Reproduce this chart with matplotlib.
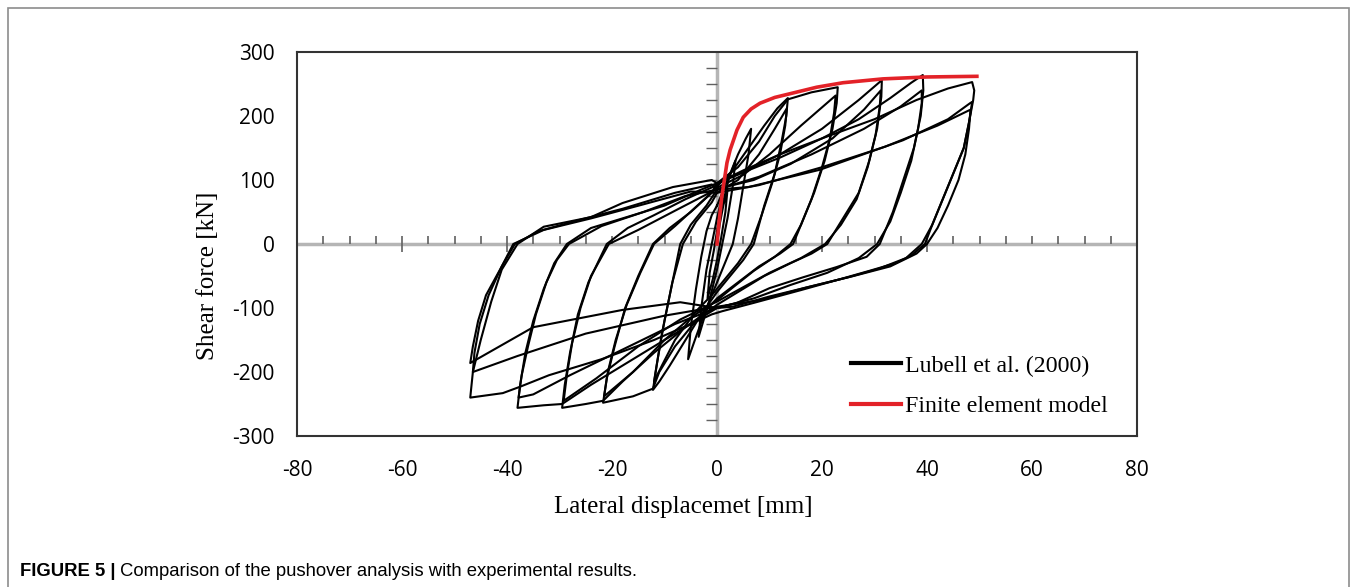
import matplotlib
matplotlib.use("Agg")
import matplotlib.pyplot as plt
from matplotlib.lines import Line2D
from matplotlib.patches import Rectangle
import numpy as np

plt.rcParams["axes.unicode_minus"] = False

# finite element pushover curve
fe_x = [0, 0.4, 0.9, 1.9, 2.5, 3.8, 5, 6.5, 8.2, 11, 14.5, 19, 24, 31.6, 40, 49.5]
fe_y = [0, 35, 73, 127, 147, 178, 198, 211, 220, 229, 236, 245, 252, 258, 261, 262]

# Lubell et al. (2000) cyclic test, traced cycle by cycle
loop1_x = [0, 0.5, 1.2, 2.0, 1.6, 0.8, 0, -0.8, -1.8, -1.4, -0.6, 0]
loop1_y = [0, 30, 60, 85, 50, 10, -25, -55, -85, -45, -10, 20]

loop2_x = [0, 1.0, 2.2, 3.5, 3.0, 2.0, 1.0, 0, -1.5, -3.5, -3.0, -2.0, -1.0, 0, 1.0]
loop2_y = [20, 60, 100, 130, 90, 40, 0, -40, -90, -145, -100, -40, 0, 40, 75]

loop3_x = [0, 2, 4, 5.5, 6.5, 6.0, 5.0, 4.0, 3.0, 1.5, 0, -2, -4, -5.5, -5.0, -4.0, -3.0, -2.0, -1.0, 0]
loop3_y = [60, 100, 140, 165, 180, 140, 90, 40, 0, -30, -60, -100, -145, -180, -130, -70, -20, 20, 45, 60]

loop4_x = [0, 3, 6, 9, 11.5, 13.5, 13.2, 12.3, 11, 9, 7, 5, 2, 0, -3, -6, -9, -11, -12.2,
           -11.5, -10.5, -9, -7, -5, -2, 0]
loop4_y = [90, 115, 150, 185, 212, 228, 200, 160, 110, 60, 0, -25, -55, -75, -110, -150, -190, -215, -228,
           -190, -140, -80, 0, 30, 60, 85]

loop4b_x = [0, 4, 8, 11, 13.3, 13.0, 12.0, 10.5, 8.5, 6.5, 4, 1, -1, -4, -8, -10.5, -12.0,
            -11.2, -10.0, -8.5, -6.5, -4, -1, 0]
loop4b_y = [80, 100, 140, 180, 212, 185, 140, 95, 45, 0, -30, -60, -80, -105, -150, -190, -215,
            -175, -120, -60, 0, 35, 65, 80]

loop5_x = [0, 4, 8, 11, 13.5, 18, 23, 22.8, 22, 20.5, 18.5, 16.5, 14.5, 12, 8, 4, 0, -4, -8, -11,
           -12.2, -16, -21.7, -21, -19.5, -17.5, -15, -12.2, -9, -5, -1, 0]
loop5_y = [95, 120, 160, 200, 226, 237, 245, 220, 180, 130, 80, 40, 0, -15, -35, -60, -85, -120, -160, -200,
           -226, -238, -248, -210, -160, -100, -50, 0, 25, 50, 80, 95]

loop5b_x = [0, 5, 10, 16, 22.6, 22.3, 21.5, 20, 18, 16, 14, 11, 7, 3, 0, -5, -10, -16, -21.5,
            -20.8, -19.3, -17.2, -14.6, -12, -8, -4, 0]
loop5b_y = [88, 108, 140, 185, 232, 205, 165, 120, 70, 30, 0, -20, -42, -68, -88, -115, -150, -200, -238,
            -200, -150, -95, -45, 0, 28, 58, 88]

loop6_x = [0, 5, 12, 20, 27, 31.4, 31.3, 30.5, 29, 27, 24, 21, 18, 14, 9, 4, 0, -6, -12, -18,
           -21.7, -25, -29.5, -29, -28, -26.5, -24.5, -21, -17, -12, -6, 0]
loop6_y = [95, 112, 140, 180, 225, 256, 230, 180, 130, 80, 40, 0, -15, -30, -50, -75, -95, -130, -170, -215,
           -245, -250, -256, -220, -170, -110, -60, 0, 25, 45, 70, 92]

loop6b_x = [0, 7, 14, 22, 28, 31.2, 31.0, 30.2, 28.7, 26.6, 23.6, 20.6, 16, 10, 4, 0, -7, -15, -23,
            -29.2, -28.6, -27.6, -26, -24, -20.6, -15, -8, 0]
loop6b_y = [86, 100, 125, 165, 210, 240, 215, 170, 120, 70, 30, 0, -22, -45, -72, -90, -118, -160, -210,
            -245, -205, -155, -100, -50, 0, 22, 52, 86]

loop7_x = [0, 5, 12, 20, 27, 33, 37, 39.2, 39.3, 38.8, 37.5, 35.5, 33.5, 31, 28.5, 22.8, 16.4, 10, 3.8,
           0, -8, -16, -24, -29.5, -33, -38, -37.5, -36.5, -35, -33, -31, -28.6, -24, -18, -10, -3, 0]
loop7_y = [95, 112, 135, 165, 195, 228, 252, 264, 240, 200, 150, 100, 50, 0, -20, -36, -52, -69, -92,
           -100, -140, -180, -220, -250, -252, -256, -220, -170, -120, -70, -30, 0, 25, 40, 60, 85, 95]

loop7b_x = [0, 8, 18, 28, 35, 39.0, 39.0, 38.3, 37, 35, 33, 30.5, 27, 21, 14, 7, 0, -8, -18, -28,
            -35, -37.8, -37.2, -36, -34.5, -32.5, -30.5, -28.2, -22, -14, -6, 0]
loop7b_y = [85, 105, 140, 180, 215, 240, 220, 180, 130, 80, 35, 0, -22, -45, -64, -85, -100, -125, -165, -205,
            -235, -240, -205, -160, -110, -60, -25, 0, 28, 50, 75, 85]

loop8a_x = [0, 5, 12, 20, 30, 38, 44, 48.6, 49, 48.8, 48, 47, 45, 43, 41, 39.6, 37, 34, 29, 23, 16, 7,
            1, -1, -5, -12, -22, -32, -37.5, -40.8, -47, -46.5, -45, -43, -41, -38, -33, -24, -18, -8.4,
            -1, 0]
loop8a_y = [95, 115, 140, 165, 195, 225, 243, 253, 240, 225, 190, 150, 110, 70, 30, 0, -18, -30, -42, -56,
            -72, -92, -105, -110, -125, -150, -180, -205, -223, -233, -240, -200, -150, -90, -40, 0, 27, 42,
            64, 89, 100, 95]

loop8b_x = [0, 6, 19.6, 35.4, 44, 48.2, 48.6, 48, 47, 45, 43, 41, 39, 36, 31, 25, 18, 10, 3, 0, -7,
            -18, -35, -47, -46.5, -45.5, -44, -41, -38.5, -34, -26, -18, -8, -1, 0]
loop8b_y = [85, 89, 116, 162, 195, 220, 222, 190, 150, 110, 70, 30, 0, -22, -38, -52, -66, -82, -98, -100,
            -91, -103, -130, -186, -160, -120, -80, -35, 0, 20, 38, 55, 80, 93, 85]

loop8c_x = [0, 8, 20, 32, 42, 48.3, 48.0, 47.3, 46, 44, 42, 40, 38, 33, 26, 17, 8, 0, -10, -25,
            -38, -46.5, -46.2, -45.2, -43.5, -41, -38.8, -33, -24, -14, -5, 0]
loop8c_y = [80, 92, 120, 152, 185, 210, 180, 140, 100, 60, 25, 0, -15, -35, -50, -68, -88, -98, -112, -140,
            -175, -200, -170, -125, -80, -35, 0, 22, 40, 62, 82, 80]

loops = [
    (loop1_x, loop1_y), (loop2_x, loop2_y), (loop3_x, loop3_y),
    (loop4_x, loop4_y), (loop4b_x, loop4b_y),
    (loop5_x, loop5_y), (loop5b_x, loop5b_y),
    (loop6_x, loop6_y), (loop6b_x, loop6b_y),
    (loop7_x, loop7_y), (loop7b_x, loop7b_y),
    (loop8a_x, loop8a_y), (loop8b_x, loop8b_y), (loop8c_x, loop8c_y),
]

x_ticks = [-80, -60, -40, -20, 0, 20, 40, 60, 80]
y_ticks = [-300, -200, -100, 0, 100, 200, 300]

W, H = 1357, 587
fig = plt.figure(figsize=(W / 100, H / 100), dpi=100)
ax = fig.add_axes([297 / W, 1 - 436 / H, 840 / W, 384 / H])

# gray zero axes with small tick marks, as in the scanned figure
ax.axhline(0, color="#b5b5b5", lw=2.5, zorder=1)
ax.axvline(0, color="#b5b5b5", lw=2.5, zorder=1)
ax.plot(np.arange(-80, 81, 5), np.zeros(33), ls="none", marker=2, ms=6, mew=1.2, color="#606060", zorder=1)
ax.plot([-60, -40, 20, 40], [0, 0, 0, 0], ls="none", marker=3, ms=6, mew=1.2, color="#606060", zorder=1)
ax.plot(np.zeros(23), np.arange(-275, 276, 25), ls="none", marker=0, ms=8, mew=1.0, color="#606060", zorder=1)

for lx, ly in loops:
    ax.plot(lx, ly, color="black", lw=1.5, solid_joinstyle="round", zorder=2)

ax.plot(fe_x, fe_y, color="#e32228", lw=2.6, zorder=3)

ax.set_xlim(-80, 80)
ax.set_ylim(-300, 300)
ax.set_xticks(x_ticks)
ax.set_yticks(y_ticks)
ax.tick_params(length=0, labelsize=15)
ax.tick_params(axis="x", pad=17)
ax.tick_params(axis="y", pad=16)
for lab in ax.get_xticklabels() + ax.get_yticklabels():
    lab.set_family("Open Sans")
for s in ax.spines.values():
    s.set_color("#333333")
    s.set_linewidth(1.5)

serif = ["Liberation Serif", "DejaVu Serif"]
fig.text(208 / W, 1 - 276 / H, "Shear force [kN]", rotation=90, ha="center", va="center",
         family=serif, fontsize=18)
fig.text(683 / W, 1 - 507 / H, "Lateral displacemet [mm]", ha="center", va="center",
         family=serif, fontsize=18)

handles = [Line2D([], [], color="black", lw=3), Line2D([], [], color="#e32228", lw=3)]
ax.legend(handles, ["Lubell et al. (2000)", "Finite element model"], loc="center left",
          bbox_to_anchor=(829 / W, 1 - 386 / H), bbox_transform=fig.transFigure,
          frameon=False, handlelength=2.1, handletextpad=0.2, labelspacing=0.77,
          prop={"family": serif, "size": 17.2})

# figure frame and caption
fig.patches.append(Rectangle((8 / W, -0.05), 1341 / W, 1.05 - 8 / H, transform=fig.transFigure,
                             fill=False, edgecolor="#8c8c8c", lw=1.2))
caption_font = ["Liberation Sans", "DejaVu Sans"]
t1 = fig.text(20 / W, 1 - 572 / H, "FIGURE 5 |", ha="left", va="center", family=caption_font,
              fontweight="bold", fontsize=13.3)
renderer = fig.canvas.get_renderer()
bb = t1.get_window_extent(renderer)
fig.text((bb.x1 + 5) / W, 1 - 572 / H, "Comparison of the pushover analysis with experimental results.",
         ha="left", va="center", family=caption_font, fontsize=13.3)

fig.savefig("out.png", dpi=100)
